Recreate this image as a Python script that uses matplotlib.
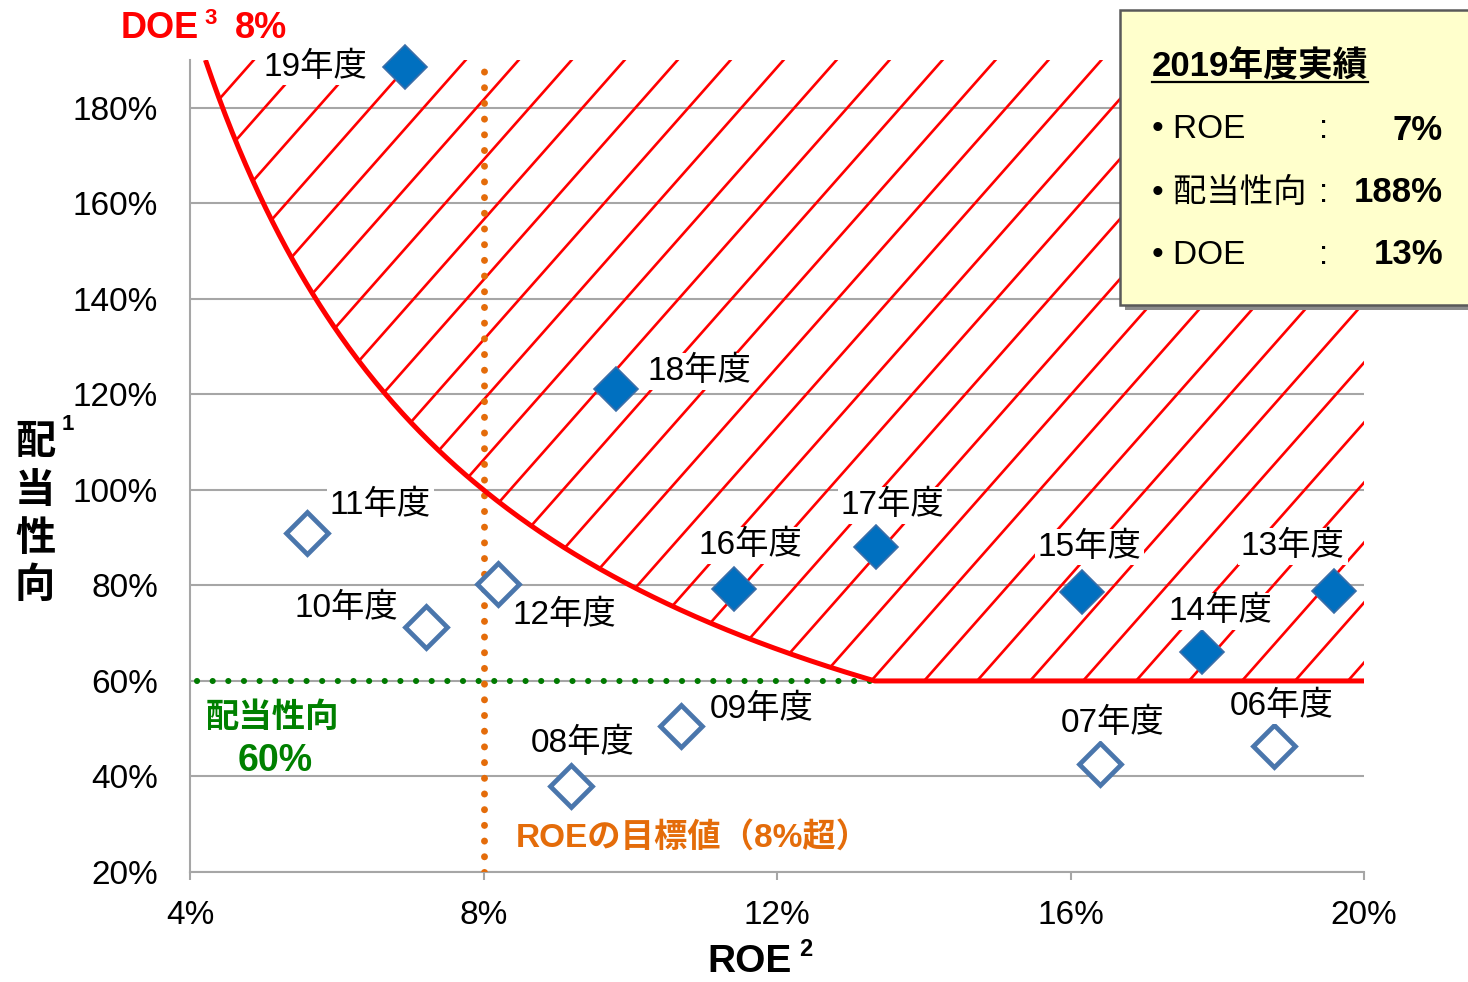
import numpy as np
import matplotlib
matplotlib.use('Agg')
import matplotlib.pyplot as plt
from matplotlib.patches import Polygon, Rectangle
from matplotlib.lines import Line2D

FONT = ['Liberation Sans', 'Noto Sans CJK JP', 'DejaVu Sans']
plt.rcParams['font.family'] = FONT

# ---------------- data ----------------
recent_years = ['19年度', '18年度', '17年度', '16年度', '15年度', '14年度', '13年度']
recent_roe = [6.93, 9.80, 13.35, 11.41, 16.15, 17.79, 19.59]
recent_payout = [188.5, 121.2, 88.1, 79.3, 78.6, 66.1, 78.9]

past_years = ['12年度', '11年度', '10年度', '09年度', '08年度', '07年度', '06年度']
past_roe = [8.20, 5.59, 7.22, 10.69, 9.19, 16.40, 18.78]
past_payout = [80.3, 91.0, 71.3, 50.6, 38.0, 42.6, 46.4]

DOE_TARGET = 8.0      # %
ROE_TARGET = 8.0      # %
PAYOUT_FLOOR = 60.0   # %

x_ticks = [4, 8, 12, 16, 20]
x_tick_labels = ['4%', '8%', '12%', '16%', '20%']
y_ticks = [20, 40, 60, 80, 100, 120, 140, 160, 180]
y_tick_labels = ['20%', '40%', '60%', '80%', '100%', '120%', '140%', '160%', '180%']

box_title = '2019年度実績'
box_items = ['• ROE', '• 配当性向', '• DOE']
box_values = ['7%', '188%', '13%']

# label offsets (pixels, dx right, dy down) and alignment
recent_offsets = [(-38, 0, 'right'), (32, -17, 'left'), (16, -41, 'center'),
                  (17, -43, 'center'), (8, -45, 'center'), (19, -40, 'center'),
                  (-41, -44, 'center')]
past_offsets = [(14, 31, 'left'), (23, -28, 'left'), (-28, -19, 'right'),
                (29, -16, 'left'), (12, -43, 'center'), (13, -41, 'center'),
                (7, -40, 'center')]

# ---------------- figure ----------------
W, H = 1468, 982
fig = plt.figure(figsize=(W / 100, H / 100), dpi=100)
L, R, B, T = 190, 1364, 872, 60
ax = fig.add_axes([L / W, 1 - B / H, (R - L) / W, (B - T) / H])
XMIN, XMAX, YMIN, YMAX = 4, 20, 20, 190
ax.set_xlim(XMIN, XMAX)
ax.set_ylim(YMIN, YMAX)


def fx(x):
    return x / W


def fy(y):
    return 1 - y / H


FS = 24
GRID = '#A6A6A6'
ax.set_yticks(y_ticks)
ax.set_yticklabels(y_tick_labels, fontsize=FS)
ax.set_xticks(x_ticks)
ax.set_xticklabels(x_tick_labels, fontsize=FS)
ax.tick_params(axis='y', length=0, pad=23)
ax.tick_params(axis='x', length=6, width=1.5, color=GRID, pad=14, direction='out')
ax.grid(axis='y', color=GRID, lw=1.5, zorder=0)
for s in ['top', 'right']:
    ax.spines[s].set_visible(False)
for s in ['left', 'bottom']:
    ax.spines[s].set_color(GRID)
    ax.spines[s].set_linewidth(1.5)
ax.set_axisbelow(True)

# DOE curve
x_start = DOE_TARGET / (YMAX / 100)
x_knee = DOE_TARGET / (PAYOUT_FLOOR / 100)
xc = np.linspace(x_start, x_knee, 300)
yc = DOE_TARGET / xc * 100
curve_x = np.concatenate([xc, [XMAX]])
curve_y = np.concatenate([yc, [PAYOUT_FLOOR]])

# hatched region
poly_pts = np.column_stack([np.concatenate([curve_x, [XMAX, x_start]]),
                            np.concatenate([curve_y, [YMAX, YMAX]])])
region = Polygon(poly_pts, closed=True, facecolor='none', edgecolor='none',
                 transform=ax.transData)
ax.add_patch(region)
# hatch geometry in data units (style only)
hatch_slope = 17.4     # payout-% per ROE-%
hatch_step = 0.722     # ROE-% between hatch lines
hatch_x0, hatch_y0 = 16.36, 63.3
for k in range(-30, 30):
    xk = hatch_x0 + k * hatch_step
    ys = np.array([YMIN, YMAX])
    xs = xk + (ys - hatch_y0) / hatch_slope
    ln, = ax.plot(xs, ys, color='#FF0000', lw=1.9, zorder=2, scalex=False, scaley=False)
    ln.set_clip_path(region)

ax.plot(curve_x, curve_y, color='#FF0000', lw=3.6, zorder=4, solid_capstyle='butt')

# target lines
ax.plot([ROE_TARGET, ROE_TARGET], [YMIN, 189], color='#E46C0A', lw=5.0,
        linestyle=(0, (0.01, 2.25)), dash_capstyle='round', zorder=3)
ax.plot([4.1, x_knee], [PAYOUT_FLOOR, PAYOUT_FLOOR], color='#007A00', lw=4.4,
        linestyle=(0, (0.01, 2.55)), dash_capstyle='round', zorder=3)

# markers
ax.plot(recent_roe, recent_payout, linestyle='none', marker='D', ms=22,
        mfc='#0070C0', mec='#3A6EA8', mew=1.2, zorder=6, clip_on=False)
ax.plot(past_roe, past_payout, linestyle='none', marker='D', ms=21,
        mfc='white', mec='#4A76AC', mew=3.4, zorder=6, clip_on=False)

for names, xs, ys, offs in [(recent_years, recent_roe, recent_payout, recent_offsets),
                            (past_years, past_roe, past_payout, past_offsets)]:
    for n, x, y, (dx, dy, ha) in zip(names, xs, ys, offs):
        ax.annotate(n, (x, y), xytext=(dx * 0.72, -dy * 0.72), textcoords='offset points',
                    ha=ha, va='center', fontsize=FS, color='black', zorder=7,
                    annotation_clip=False,
                    bbox=dict(boxstyle='square,pad=0.08', fc='white', ec='none'))

# in-plot annotations
fig.text(fx(206), fy(718), '配当性向', color='#008000', fontsize=24, fontweight='bold',
         ha='left', va='center')
fig.text(fx(275), fy(761), '60%', color='#008000', fontsize=27, fontweight='bold',
         ha='center', va='center')
fig.text(fx(516), fy(838), 'ROEの目標値（8%超）', color='#E46C0A', fontsize=24,
         fontweight='bold', ha='left', va='center')

# DOE title
fig.text(fx(121), fy(28), 'DOE', color='#FF0000', fontsize=26, fontweight='bold',
         ha='left', va='center')
fig.text(fx(204), fy(19), '3', color='#FF0000', fontsize=16, fontweight='bold',
         ha='left', va='center')
fig.text(fx(235), fy(28), '8%', color='#FF0000', fontsize=26, fontweight='bold',
         ha='left', va='center')

# axis titles
for ch, yy in zip('配当性向', [443, 491, 539, 586]):
    fig.text(fx(35), fy(yy), ch, fontsize=29, fontweight='bold', ha='center', va='center')
fig.text(fx(68), fy(424), '1', fontsize=16, fontweight='bold', ha='center', va='center')
fig.text(fx(750), fy(962), 'ROE', fontsize=28, fontweight='bold', ha='center', va='center')
fig.text(fx(806), fy(950), '2', fontsize=17, fontweight='bold', ha='center', va='center')

# info box
bx0, by0, bx1, by1 = 1120, 10, 1480, 305
shadow = Rectangle((fx(bx0 + 5), fy(by1 + 5)), (bx1 - bx0) / W, (by1 - by0) / H,
                   transform=fig.transFigure, facecolor='#8C8C8C', edgecolor='none',
                   zorder=20)
box = Rectangle((fx(bx0), fy(by1)), (bx1 - bx0) / W, (by1 - by0) / H,
                transform=fig.transFigure, facecolor='#FFFFCC', edgecolor='#595959',
                lw=1.8, zorder=21)
fig.add_artist(shadow)
fig.add_artist(box)

t = fig.text(fx(1152), fy(67), box_title, fontsize=25, fontweight='bold', ha='left',
             va='center', zorder=22)
for item, val, yy in zip(box_items, box_values, [130, 193, 255]):
    fig.text(fx(1152), fy(yy), item, fontsize=FS, ha='left', va='center', zorder=22)
    fig.text(fx(1324), fy(yy), ':', fontsize=FS, ha='center', va='center', zorder=22)
    fig.text(fx(1443), fy(yy), val, fontsize=25, fontweight='bold', ha='right',
             va='center', zorder=22)

fig.canvas.draw()
bb = t.get_window_extent()
ul = Line2D([bb.x0 / W, bb.x1 / W], [fy(82), fy(82)], transform=fig.transFigure,
            color='black', lw=1.6, zorder=22)
fig.add_artist(ul)

fig.savefig('out.png', dpi=100)
